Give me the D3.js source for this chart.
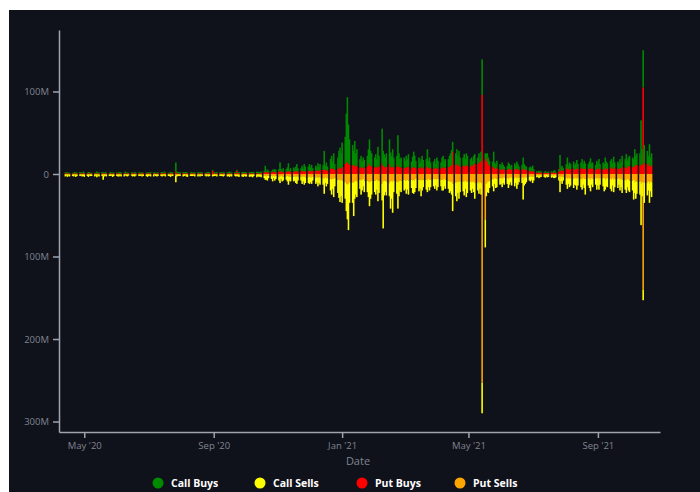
<!DOCTYPE html>
<html><head><meta charset="utf-8">
<script src="https://cdn.jsdelivr.net/npm/d3@7/dist/d3.min.js"></script>
<style>body{margin:0;background:#fff;}svg{display:block;}</style>
</head><body><svg id="c" width="700" height="492"></svg>
<script>
// Trading days (Mon-Fri) starting Monday 2020-04-13, values in millions
const startMonday = "2020-04-13";
const putBuys = [
1,0.5,1,1,0.5, 0.5,1,1,0.5,1, 1,1,0.5,1,1, 0.5,1,1,1,0.5, 1,0.5,1,0.5,1,
1,1,0.5,1,1, 0.5,1,1,0.5,1, 1,0.5,1,1,0.5, 1,1,0.5,1,1, 0.5,1,1,1,0.5,
1,1,0.5,1,1, 1,0.5,1,1,1, 0.5,1,1,0.5,1, 1,1,0.5,1,1, 1,0.5,1,1,0.5,
3,1,1,0.5,1, 1,1,0.5,1,1, 0.5,1,1,1,0.5, 1,1,0.5,1,1, 1,0.5,1,1,1,
4,1,1,0.5,1, 1,1,0.5,1,1, 0.5,1,1,1,0.5, 1,1,4,1,1, 1,0.5,1,1,1,
1,1,1,0.5,1, 1,1,0.5,1,1,
2,3,2,3,2, 2,3,3,2,3, 3,4,3,2,3, 3,3,4,3,3, 3,4,3,4,3,
4,3,4,4,3, 4,4,3,4,4, 4,5,4,4,5, 5,6,5,5,4, 6,7,6,7,5,
6,8,8,7,9, 12,14,15,13,11, 11,10,12,9,10, 8,9,7,8,8, 9,11,13,10,9,
8,9,8,11,9, 13,10,9,8,9, 12,9,8,10,8, 9,12,9,8,8, 8,7,9,8,9,
7,9,8,8,7, 8,7,8,9,7, 8,10,7,8,7, 7,8,6,8,7, 7,8,9,7,8,
8,9,10,11,27, 11,13,10,12,9, 10,11,9,12,10, 9,11,10,12,13, 12,15,14,16,96,
18,15,20,12,10, 8,10,7,6,8, 6,5,7,6,5, 5,7,6,5,6, 6,5,7,6,5,
5,8,6,5,5, 4,4,3,4,3, 2,1.5,2,1.5,2, 1.5,2,1,1.5,1.5, 2,1.5,2,2,1.5,
3,7,4,5,4, 6,8,5,7,6, 7,5,6,8,6, 7,8,6,7,6, 6,7,8,6,7,
5,7,6,8,6, 6,5,8,7,6, 7,8,6,9,7, 7,6,8,7,9, 8,10,7,9,10,
9,8,12,10,11, 10,12,11,105,13, 12,10,14,9,11
];
const callBuys = [
1,1.5,1,0.5,1, 1,0.5,1.5,1,1, 1.5,1,0.5,2,1, 1,1.5,1,0.5,1, 0.5,1,2,1,1,
1.5,1,1,1.5,0.5, 1,1.5,0.5,1,1, 1,0.5,1.5,1,1.5, 0.5,2,1,1,0.5, 1.5,1,0.5,1.5,1,
1,0.5,1.5,1,0.5, 0.5,1.5,1,0.5,1.5, 1.5,1,0.5,1,1, 1,1.5,0.5,2,1, 0.5,1,1.5,1,1.5,
11,2,1.5,1,1.5, 1.5,1,2,1.5,0.5, 1,1.5,0.5,1,1.5, 1.5,0.5,1.5,1,1, 0.5,1.5,1,1.5,1,
1,0.5,1.5,1,1.5, 1,1.5,0.5,1.5,1, 1.5,1,2,0.5,1.5, 1,1.5,1,1.5,1.5, 1.5,2,1,1.5,1,
1.5,1,1.5,2,1.5, 2,1.5,1.5,1,2,
2,7,1.5,2.5,2, 1.5,2.5,1.5,4,2, 3,10,3,2,4, 3,5,9,2,4, 5,2,6,8,4,
3,7,2,8,6, 5,8,5,7,3, 6,3,9,5,7, 6,22,5,9,5, 12,15,9,18,7,
14,20,24,18,29, 33,59,78,47,31, 24,18,28,16,20, 10,13,8,12,9, 13,19,29,18,16,
12,15,10,22,13, 42,18,15,12,16, 30,17,14,20,12, 13,35,16,10,12, 12,9,13,10,15,
8,12,19,14,9, 12,7,10,13,10, 10,20,9,12,7, 8,10,6,12,9, 7,12,13,9,10,
10,13,15,18,12, 14,17,12,16,11, 10,13,9,13,12, 9,9,6,10,11, 8,10,4,11,43,
7,10,5,8,6, 7,17,7,6,8, 6,5,7,5,4, 5,7,6,4,5, 7,5,8,6,4,
6,12,6,5,4, 4,5,4,6,3, 1.5,1,2,1,1.5, 1,1.5,1,1,1.5, 1.5,1,2,2.5,1,
3,16,4,5,3, 6,12,5,7,6, 8,6,7,9,6, 7,10,6,9,7, 6,8,11,7,7,
6,9,7,10,6, 8,7,12,8,7, 9,10,7,12,7, 8,6,10,7,13, 10,14,9,11,12,
11,10,18,12,14, 15,53,19,45,22, 16,12,22,11,14
];
const putSells = [
1,0.5,1,1,1, 1,1,0.5,1,1, 0.5,1,1,1,0.5, 1,1,1,0.5,1, 1,0.5,1,1,1,
1,2,1,0.5,1, 0.5,1,1,1,1, 1,1,0.5,1,1, 1,0.5,1,1,0.5, 1,1,1,0.5,1,
0.5,1,1,1,1, 1,1,0.5,1,1, 1,0.5,1,1,1, 1,1,1,0.5,1, 0.5,1,1,1,1,
2,1,1,0.5,1, 1,1,0.5,1,1, 1,0.5,1,1,1, 1,1,1,0.5,1, 0.5,1,1,1,1,
1,1,0.5,1,1, 1,0.5,1,1,1, 1,1,1,0.5,1, 0.5,1,1,1,1, 1,1,0.5,1,1,
1,1,1,1,0.5, 1,0.5,1,1,1,
2,2,3,2,2, 2,3,2,3,2, 3,3,2,3,3, 3,2,3,3,3, 3,3,4,3,3,
3,4,3,3,4, 4,3,4,4,3, 4,4,5,4,4, 5,6,4,5,5, 6,7,6,6,5,
7,7,8,7,8, 10,12,13,12,10, 10,11,9,8,9, 7,8,7,6,8, 8,9,11,9,8,
8,8,7,9,8, 12,9,8,8,9, 11,9,8,10,8, 9,11,9,8,8, 7,8,8,7,8,
7,8,7,8,6, 7,8,7,8,7, 7,8,6,7,7, 6,7,6,7,6, 7,7,8,6,7,
8,9,9,10,12, 10,11,9,10,9, 9,10,8,10,9, 9,10,9,10,11, 10,12,10,11,253,
55,12,10,9,8, 6,7,5,6,6, 5,5,6,5,4, 5,6,5,4,5, 5,4,6,5,4,
4,7,5,4,4, 3,3,3,4,3, 1.5,1.5,2,1.5,1.5, 1.5,1.5,1,1.5,1.5, 1.5,1.5,2,1.5,1.5,
3,6,3,4,3, 5,6,5,6,5, 6,5,5,6,5, 6,7,5,6,6, 5,6,7,5,6,
5,6,5,7,5, 5,5,7,6,5, 6,7,5,7,6, 6,5,7,6,7, 7,8,6,7,8,
8,7,10,9,9, 9,12,10,140,10, 11,9,12,9,10
];
const callSells = [
2,1.5,2.5,1,2, 1.5,2,1,2.5,1.5, 2,1,2,1.5,3, 1.5,2.5,1,2,1.5, 2,1.5,3,1,2,
1.5,5,2,1.5,2, 2,1.5,1,2.5,1.5, 1.5,2,2.5,1,2, 2,1,1.5,2,1.5, 1,2,1.5,2.5,1,
2,1.5,1,2,1.5, 1.5,2.5,2,1,2, 2,1,1.5,2,1.5, 1.5,2,1,1.5,2, 2,1.5,2.5,1,1.5,
8,2,1.5,2,1.5, 2,1.5,1,2,2.5, 1.5,2,1.5,1,2, 2,1,2,1.5,1.5, 1.5,2,1,2,1.5,
2,1.5,2,1,2, 1.5,2,1.5,2,1, 2,1.5,2.5,1.5,2, 1.5,2,1.5,2,2.5, 2,2.5,1.5,2,2,
2.5,2,2,3,2, 3,2,2.5,2,3,
3,5,4,6,3, 4,6,3,5,4, 5,8,4,6,5, 4,7,10,5,6, 6,5,7,9,5,
5,8,6,10,7, 7,9,6,8,5, 8,6,10,7,9, 8,18,7,10,7, 14,18,12,22,10,
16,22,26,20,27, 20,33,42,56,25, 25,40,21,17,19, 11,17,13,9,14, 14,19,28,21,17,
14,17,12,24,15, 20,57,18,14,17, 16,33,22,37,14, 15,31,18,12,14, 13,10,16,12,17,
10,15,17,14,11, 14,10,20,12,9, 12,14,10,13,9, 9,11,8,13,10, 8,13,12,9,11,
10,14,12,15,33, 17,22,14,20,13, 12,16,10,18,14, 11,13,9,12,19, 10,12,8,14,37,
34,15,12,14,9, 9,14,7,11,10, 8,7,10,6,9, 7,11,8,6,9, 10,7,12,8,6,
7,24,9,8,6, 5,6,4,7,5, 2.5,2,3,2.5,2, 2,3,2,2.5,2, 3,2,3,3.5,2.5,
5,16,6,8,5, 8,12,7,10,9, 11,8,9,13,9, 10,12,8,11,19, 9,11,14,8,10,
8,13,9,12,8, 10,16,12,9,11, 12,14,9,15,10, 11,8,13,10,16, 12,15,10,13,14,
12,24,13,21,15, 16,50,17,13,25, 15,11,23,12,18
];
const xDomain = ["2020-04-07", "2021-10-30"];
const xTickDates = ["2020-05-01", "2020-09-01", "2021-01-01", "2021-05-01", "2021-09-01"];
const yDomain = [-312.7e6, 174.5e6];
const yTicks = [100e6, 0, -100e6, -200e6, -300e6];
const seriesKeys = ["putBuys", "callBuys", "putSells", "callSells"];
const legendItems = [
  {label: "Call Buys", color: "#008a00"},
  {label: "Call Sells", color: "#ffff00"},
  {label: "Put Buys", color: "#ff0000"},
  {label: "Put Sells", color: "#ffa500"}
];
const colors = {callBuys: "#008a00", callSells: "#ffff00", putBuys: "#ff0000", putSells: "#ffa500"};

const parse = d3.utcParse("%Y-%m-%d");
const start = parse(startMonday);
const rows = putBuys.map((v, i) => {
  const wk = Math.floor(i / 5), dd = i % 5;
  const date = d3.utcDay.offset(start, wk * 7 + dd);
  return {date, putBuys: v * 1e6, callBuys: callBuys[i] * 1e6,
          putSells: -putSells[i] * 1e6, callSells: -callSells[i] * 1e6};
});

const svg = d3.select("#c");
svg.append("rect").attr("x", 0).attr("y", 0).attr("width", 700).attr("height", 492).attr("fill", "#fff");
svg.append("rect").attr("x", 9).attr("y", 10).attr("width", 691).attr("height", 482).attr("fill", "#0f111b");

const x = d3.scaleUtc().domain(xDomain.map(parse)).range([59, 660]);
const y = d3.scaleLinear().domain(yDomain).range([432, 30]);

const stack = d3.stack().keys(seriesKeys).offset(d3.stackOffsetDiverging);
const layers = stack(rows);
const dayW = x(d3.utcDay.offset(start, 1)) - x(start);
const barW = dayW * 1.5;

const g = svg.append("g");
layers.forEach(layer => {
  g.append("g").attr("fill", colors[layer.key])
    .selectAll("rect").data(layer).join("rect")
    .attr("x", d => x(d.data.date) - barW / 2)
    .attr("width", barW)
    .attr("y", d => y(Math.max(d[0], d[1])))
    .attr("height", d => Math.abs(y(d[0]) - y(d[1])));
});

const axisColor = "#9ea3ae", textColor = "#80858f";
const fmtY = v => v === 0 ? "0" : d3.format(".0f")(Math.abs(v) / 1e6) + "M";
const yAxis = svg.append("g").attr("transform", "translate(59,0)")
  .call(d3.axisLeft(y).tickValues(yTicks).tickFormat(fmtY).tickSize(6).tickSizeOuter(0).tickPadding(4));
const xAxis = svg.append("g").attr("transform", "translate(0,432)")
  .call(d3.axisBottom(x).tickValues(xTickDates.map(parse)).tickFormat(d3.utcFormat("%b '%y")).tickSize(6).tickSizeOuter(0).tickPadding(4));
[yAxis, xAxis].forEach(a => {
  a.select(".domain").attr("stroke", axisColor).attr("stroke-width", 1.5);
  a.selectAll(".tick line").attr("stroke", axisColor).attr("stroke-width", 1.5);
  a.selectAll(".tick text").attr("fill", textColor).attr("font-family", "Open Sans, sans-serif").attr("font-size", 9.5);
});

svg.append("text").attr("x", 358).attr("y", 465).attr("text-anchor", "middle")
  .attr("fill", textColor).attr("font-family", "Open Sans, sans-serif").attr("font-size", 11).text("Date");

const legendX = [158, 260, 362, 460];
const lg = svg.append("g");
legendItems.forEach((it, i) => {
  lg.append("circle").attr("cx", legendX[i]).attr("cy", 483).attr("r", 5.5).attr("fill", it.color);
  lg.append("text").attr("x", legendX[i] + 13).attr("y", 487).attr("fill", "#fff")
    .attr("font-family", "Open Sans, sans-serif").attr("font-weight", "bold").attr("font-size", 10.5).text(it.label);
});
</script></body></html>
